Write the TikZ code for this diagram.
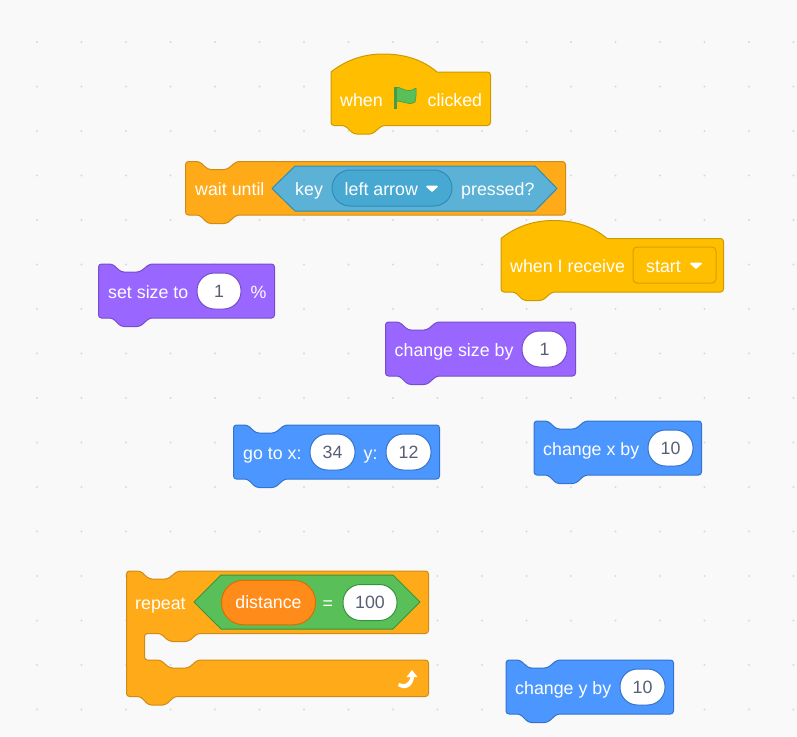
\documentclass[tikz,border=0pt]{standalone}
\usepackage{fontspec}
\setmainfont{Liberation Sans}
\definecolor{bgc}{HTML}{F9F9F9}
\definecolor{dotc}{HTML}{DADADA}
\definecolor{hatF}{HTML}{FFBF00}
\definecolor{hatD}{HTML}{CC9900}
\definecolor{ctlF}{HTML}{FFAB19}
\definecolor{ctlD}{HTML}{CF8B17}
\definecolor{looF}{HTML}{9966FF}
\definecolor{looD}{HTML}{774DCB}
\definecolor{motF}{HTML}{4C97FF}
\definecolor{motD}{HTML}{3373CC}
\definecolor{senF}{HTML}{5CB1D6}
\definecolor{senD}{HTML}{2E8EB8}
\definecolor{senP}{HTML}{47A8D1}
\definecolor{opF}{HTML}{59C059}
\definecolor{opD}{HTML}{389438}
\definecolor{varF}{HTML}{FF8C1A}
\definecolor{varD}{HTML}{DB6E00}
\definecolor{inkc}{HTML}{575E75}
\newcommand\stackblock[6]{% fill, draw, x, y, w, h
  \path[fill=#1,draw=#2,line width=1pt,rounded corners=3pt,shift={(#3,#4)}]
    (0,10) -- (0,0) -- (14,0) -- (22.5,8) -- (41.5,8) -- (51,0) -- (#5,0) -- (#5,#6)
    -- (51,#6) -- (41.5,#6+8.5) -- (22.5,#6+8.5) -- (14,#6) -- (0,#6) -- cycle;}
\newcommand\hatblock[6]{% fill, draw, x, y, w, h
  \path[fill=#1,draw=#2,line width=1pt,shift={(#3,#4)}]
    (0,10) -- (0,0) .. controls (15,-12) and (33,-18) .. (52,-18)
    .. controls (74,-18) and (92,-12) .. (106,0)
    [rounded corners=3pt] -- (#5,0) -- (#5,#6)
    -- (51,#6) -- (41.5,#6+8.5) -- (22.5,#6+8.5) -- (14,#6) -- (0,#6) -- (0,10) -- cycle;}
\newcommand\dropdowntri[2]{% x, y of left corner
  \path[fill=white,draw=white,line width=1.6pt,line join=round,shift={(#1,#2)}]
    (0,0) -- (10,0) -- (5,4.5) -- cycle;}
\tikzset{
  x=1pt,y=-1pt,
  lbl/.style={anchor=base west,inner sep=0pt,text=white,font=\fontsize{17.8}{20}\selectfont},
  num/.style={shape=rectangle,rounded corners=17.5pt,fill=white,draw=#1,line width=1pt,inner sep=0pt,
    minimum height=36pt,text=inkc,font=\fontsize{17.8}{20}\selectfont},
  pillw/.style={minimum width=#1pt},
  dotmark/.style={fill=dotc,draw=none}
}
\begin{document}
\begin{tikzpicture}
\useasboundingbox (0,0) rectangle (797,736);
\fill[bgc] (0,0) rectangle (797,736);
\foreach \i in {0,...,17}{\foreach \j in {0,...,15}{
  \fill[dotmark] (37+44.5*\i,42+44.5*\j) circle (1.2pt);}}

% when flag clicked
\hatblock{hatF}{hatD}{331}{72}{159.5}{53.5}
\node[lbl] (whenA) at (340,106) {when};
\node[lbl] (clicked) at (427.5,106) {clicked};
\path[fill=opF,draw=opF!80!black,line width=.6pt] (394.5,87.5) .. controls (400,85) and (406,95) .. (416,88)
  .. controls (416.5,93) and (416,98) .. (415,102) .. controls (407,107) and (401,98) .. (394.5,102.5) -- cycle;
\path[fill=opF!80!black] (394,87) rectangle (396.5,109);

% wait until
\stackblock{ctlF}{ctlD}{185.5}{161.5}{380}{53.5}
\path[fill=senF,draw=senD,line width=1pt,line join=round] (272,188.5) -- (295,166) -- (535,166) -- (557,188.5) -- (535,211) -- (295,211) -- cycle;
\node[lbl] (wait) at (195,195) {wait until};
\node[lbl] (key) at (295,195) {key};
\node[shape=rectangle,rounded corners=18pt,fill=senP,draw=senD,line width=1pt,minimum width=120pt,minimum height=36pt] (leftarrow) at (392,188) {};
\node[lbl] (leftlbl) at (344.5,195) {left arrow};
\dropdowntri{427}{186.5}
\node[lbl] (pressed) at (461,195) {pressed?};

% when I receive
\hatblock{hatF}{hatD}{501}{238.5}{222.5}{53.5}
\node[lbl] (receive) at (510,272) {when I receive};
\node[shape=rectangle,rounded corners=4pt,fill=hatF,draw=hatD!85!hatF,line width=1pt,minimum width=83pt,minimum height=36pt] (startbox) at (674.5,265) {};
\node[lbl] (startlbl) at (646,272) {start};
\dropdowntri{691}{263.5}

% set size
\stackblock{looF}{looD}{98.5}{264}{176}{54}
\node[lbl] (setsize) at (108,298) {set size to};
\node[num=looD,pillw=44] (one) at (219,291) {1};
\node[lbl] (pct) at (250.5,298) {\%};

% change size
\stackblock{looF}{looD}{385.5}{322}{190}{54}
\node[lbl] (chsize) at (394.5,356) {change size by};
\node[num=looD,pillw=45] (oneb) at (544.5,349) {1};

% go to
\stackblock{motF}{motD}{233.5}{425}{206}{54}
\node[lbl] (goto) at (243,459) {go to x:};
\node[num=motD,pillw=45] (gx) at (332.5,452) {34};
\node[lbl] (ylbl) at (363.5,459) {y:};
\node[num=motD,pillw=45] (gy) at (408.5,452) {12};

% change x
\stackblock{motF}{motD}{534}{421}{167.5}{54}
\node[lbl] (chx) at (543,455) {change x by};
\node[num=motD,pillw=45] (xval) at (670.5,448) {10};

% change y
\stackblock{motF}{motD}{506}{660}{167.5}{54}
\node[lbl] (chy) at (515,694) {change y by};
\node[num=motD,pillw=45] (yval) at (642.5,687) {10};

% repeat
\path[fill=ctlF,draw=ctlD,line width=1pt,rounded corners=3pt,shift={(126.5,571)}]
  (0,10) -- (0,0) -- (14,0) -- (22.5,8) -- (41.5,8) -- (51,0) -- (302,0) -- (302,62.5)
  -- (71,62.5) -- (62,70.5) -- (43,70.5) -- (34,62.5) -- (18,62.5) -- (18,89) -- (34,89)
  -- (43,97) -- (62,97) -- (71,89) -- (302,89) -- (302,125.5)
  -- (48,125.5) -- (39,134) -- (22,134) -- (14,125.5) -- (0,125.5) -- cycle;
\path[fill=opF,draw=opD,line width=1pt,line join=round] (194,602) -- (221,575) -- (393,575) -- (420,602) -- (393,629) -- (221,629) -- cycle;
\node[lbl] (rpt) at (135,609) {repeat};
\node[shape=rectangle,rounded corners=22pt,fill=varF,draw=varD,line width=1pt,minimum width=94pt,minimum height=44.5pt,text=white,font=\fontsize{17.8}{20}\selectfont] (dist) at (268.5,602.5) {distance};
\node[lbl] (eq) at (322.5,609) {=};
\node[num=opD,pillw=54] (hundred) at (370,602.5) {100};
% loop arrow
\path[fill=white] (399,683) .. controls (404,685.5) and (409,684) .. (410.5,677)
  -- (406.5,677) -- (412,670) -- (417.5,677) -- (414,677)
  .. controls (413,687) and (405,691) .. (398,686) -- cycle;
\end{tikzpicture}
\end{document}
